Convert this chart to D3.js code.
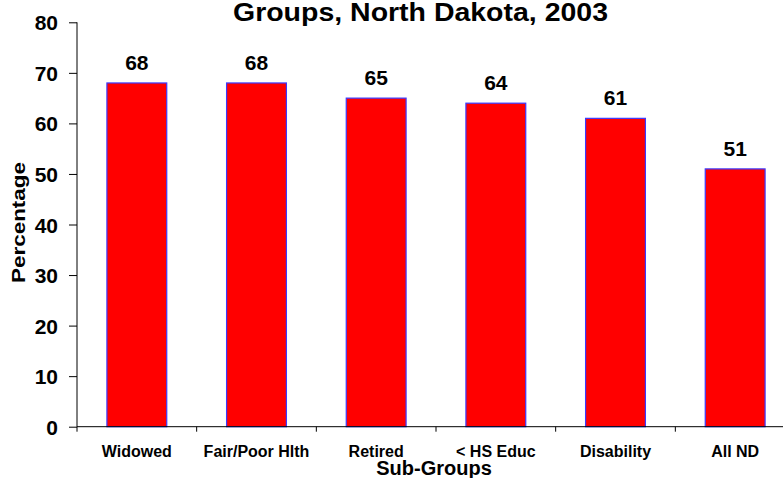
<!DOCTYPE html>
<html><head>
<meta charset="utf-8">
<script src="https://cdn.jsdelivr.net/npm/d3@7"></script>
<style>
  body { margin: 0; background: white; }
  text { font-family: Arial, "Liberation Sans", sans-serif; font-weight: bold; fill: black; }
</style>
</head>
<body>
<svg width="783" height="478"></svg>
<script>
  // data
  let categories = ["Widowed", "Fair/Poor Hlth", "Retired", "< HS Educ", "Disability", "All ND"];
  let values = [68, 68, 65, 64, 61, 51];
  let yTicks = [0, 10, 20, 30, 40, 50, 60, 70, 80];

  let svg = d3.select("svg");

  // plot area runs a bit past the right edge, like the original
  let x = d3.scaleBand()
      .domain(categories)
      .range([77, 795])
      .paddingInner(0.5)
      .paddingOuter(0.25);

  let y = d3.scaleLinear()
      .domain([0, 80])
      .range([426.7, 22.3]);

  // bars
  svg.selectAll("rect.bar")
    .data(values)
    .enter().append("rect")
      .attr("class", "bar")
      .attr("x", (d, i) => x(categories[i]))
      .attr("y", d => y(d))
      .attr("width", x.bandwidth())
      .attr("height", d => y(0) - y(d))
      .style("fill", "#ff0000")
      .style("stroke", "#3a3aff")
      .style("stroke-width", 1.2);

  // value labels
  svg.selectAll("text.val")
    .data(values)
    .enter().append("text")
      .attr("class", "val")
      .attr("x", (d, i) => x(categories[i]) + x.bandwidth() / 2)
      .attr("y", d => y(d) - 13)
      .attr("text-anchor", "middle")
      .style("font-size", "21px")
      .text(d => d);

  // y axis
  let yAxis = svg.append("g")
      .attr("transform", "translate(77,0)")
      .call(d3.axisLeft(y).tickValues(yTicks).tickSize(8).tickPadding(11));
  yAxis.select(".domain").attr("d", "M0," + y(80) + "V" + (y(0) + 5));
  yAxis.selectAll("text").style("font-size", "21px").attr("dy", "0.36em");

  // x axis: ticks at category boundaries
  let step = x.step();
  let bounds = categories.map((c, i) => 77 + i * step);
  let xAxis = svg.append("g");
  xAxis.append("line")
      .attr("x1", 77).attr("x2", 795)
      .attr("y1", y(0)).attr("y2", y(0))
      .style("stroke", "black");
  xAxis.selectAll("line.tk")
    .data(bounds.slice(1))
    .enter().append("line")
      .attr("class", "tk")
      .attr("x1", d => d).attr("x2", d => d)
      .attr("y1", y(0)).attr("y2", y(0) + 5)
      .style("stroke", "black");

  xAxis.selectAll("text")
    .data(categories)
    .enter().append("text")
      .attr("x", d => x(d) + x.bandwidth() / 2)
      .attr("y", y(0) + 30.5)
      .attr("text-anchor", "middle")
      .style("font-size", "16px")
      .text(d => d);

  // titles
  svg.append("text")
      .attr("x", 420.5)
      .attr("y", 21)
      .attr("text-anchor", "middle")
      .attr("textLength", 375)
      .attr("lengthAdjust", "spacingAndGlyphs")
      .style("font-size", "25px")
      .text("Groups, North Dakota, 2003");

  svg.append("text")
      .attr("x", 434)
      .attr("y", 475)
      .attr("text-anchor", "middle")
      .style("font-size", "20px")
      .text("Sub-Groups");

  svg.append("text")
      .attr("transform", "translate(25,222.5) rotate(-90)")
      .attr("text-anchor", "middle")
      .attr("textLength", 121)
      .attr("lengthAdjust", "spacingAndGlyphs")
      .style("font-size", "18px")
      .text("Percentage");
</script>
</body>
</html>
